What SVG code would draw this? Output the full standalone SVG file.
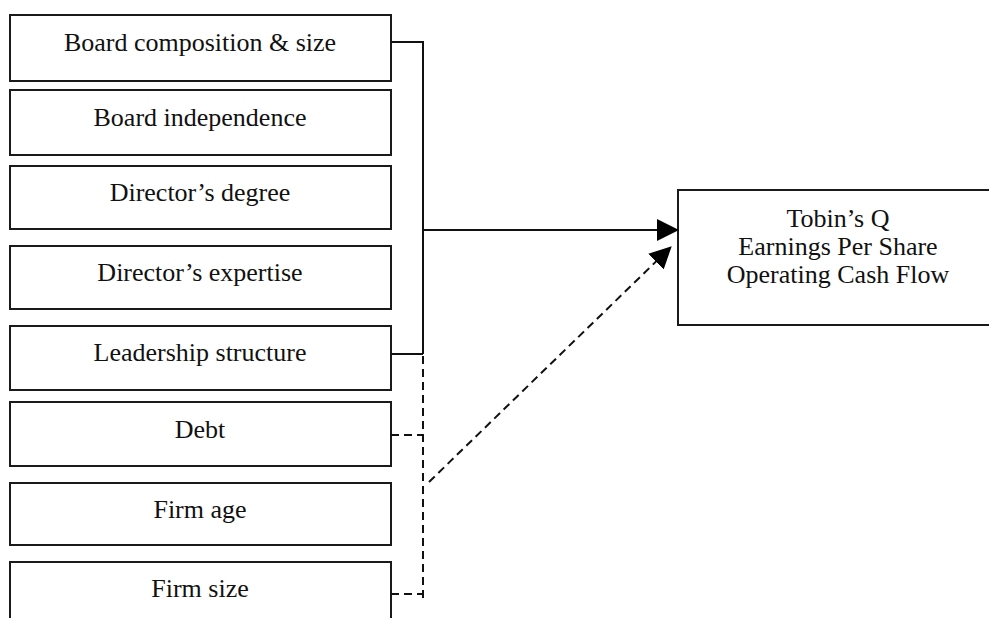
<svg xmlns="http://www.w3.org/2000/svg" width="989" height="618" viewBox="0 0 989 618">
<style>
.box{fill:#fff;stroke:#1a1a1a;stroke-width:2}
.lbl{font-family:"Liberation Serif","Times New Roman",serif;font-size:26px;fill:#111;text-anchor:middle}
.ln{fill:none;stroke:#111;stroke-width:2}
.dash{stroke-dasharray:8,5}
</style>
<defs>
<marker id="ah" markerUnits="userSpaceOnUse" markerWidth="22" markerHeight="22" viewBox="0 0 22 22" refX="21" refY="11" orient="auto">
<path d="M0,0 L22,11 L0,22 Z" fill="#000"/>
</marker>
</defs>
<rect width="989" height="618" fill="#fff"/>
<g id="n1"><rect class="box" x="10" y="15" width="381" height="66"/><text class="lbl" x="200" y="51">Board composition &amp; size</text></g>
<g id="n2"><rect class="box" x="10" y="90" width="381" height="65"/><text class="lbl" x="200" y="126">Board independence</text></g>
<g id="n3"><rect class="box" x="10" y="166" width="381" height="63"/><text class="lbl" x="200" y="201">Director’s degree</text></g>
<g id="n4"><rect class="box" x="10" y="246" width="381" height="63"/><text class="lbl" x="200" y="281">Director’s expertise</text></g>
<g id="n5"><rect class="box" x="10" y="326" width="381" height="64"/><text class="lbl" x="200" y="361">Leadership structure</text></g>
<g id="n6"><rect class="box" x="10" y="402" width="381" height="64"/><text class="lbl" x="200" y="438">Debt</text></g>
<g id="n7"><rect class="box" x="10" y="483" width="381" height="62"/><text class="lbl" x="200" y="518">Firm age</text></g>
<g id="n8"><rect class="box" x="10" y="562" width="381" height="70"/><text class="lbl" x="200" y="597">Firm size</text></g>
<g id="out"><rect class="box" x="678" y="190" width="330" height="135"/>
<text class="lbl" x="838" y="227">Tobin’s Q</text>
<text class="lbl" x="838" y="255">Earnings Per Share</text>
<text class="lbl" x="838" y="283">Operating Cash Flow</text></g>
<g id="connectors">
<path class="ln" d="M391,42 H423 V354 M391,354 H423"/>
<path class="ln" d="M423,230 H678" marker-end="url(#ah)"/>
<path class="ln dash" d="M423,356 V598"/>
<path class="ln dash" d="M391,435 H423 M391,594 H423"/>
<path class="ln dash" d="M429,482 L671,247" marker-end="url(#ah)"/>
</g>
</svg>
